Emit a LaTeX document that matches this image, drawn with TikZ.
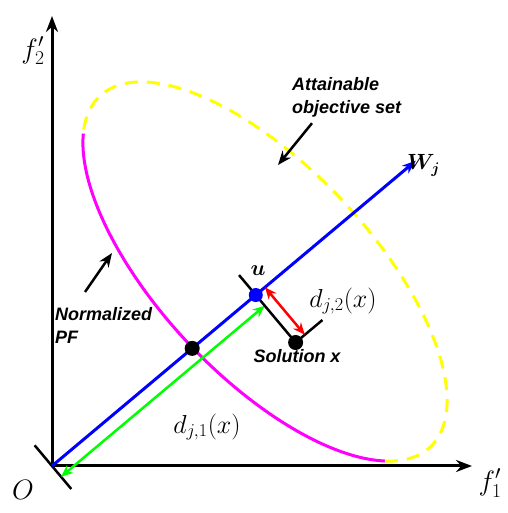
\RequirePackage{fix-cm}
\documentclass[tikz,border=0pt]{standalone}
\usepackage{amsmath, amssymb}
\usepackage{fontspec}
\setsansfont{Liberation Sans}
\usepackage{tikz}
\usetikzlibrary{arrows.meta,calc,positioning}

\definecolor{pfmag}{RGB}{255,0,255}
\definecolor{setyel}{RGB}{255,255,0}
\definecolor{wblue}{RGB}{0,0,255}
\definecolor{dgreen}{RGB}{0,255,0}
\definecolor{dred}{RGB}{255,0,0}

\begin{document}
\begin{tikzpicture}[x=1pt,y=1pt,
    axis/.style={line width=3pt,-{Stealth[length=16pt,width=12pt]}},
    dot/.style={circle,fill=black,inner sep=0pt,minimum size=15pt},
    note/.style={font=\sffamily\bfseries\itshape\fontsize{18}{23}\selectfont,align=left,inner sep=0pt},
    lbl/.style={font=\fontsize{28}{32}\selectfont},
    dlbl/.style={font=\fontsize{26}{30}\selectfont},
    dist/.style={line width=2.5pt,{Stealth[length=12pt,width=10pt]}-{Stealth[length=12pt,width=10pt]}},
    pointer/.style={line width=2.5pt,-{Stealth[length=14pt,width=11pt]}}]

    \useasboundingbox (0,0) rectangle (507,513);

    % Points
    \coordinate (O) at (52,47);
    \coordinate (x1) at (472,47);
    \coordinate (x2) at (52,497);
    \coordinate (W) at ($(O)+(40:475)$);
    \coordinate (u) at ($(O)+(40:266)$);
    \coordinate (p) at ($(O)+(40:183)$);
    \coordinate (s) at ($(u)+(-50:62)$);

    % Attainable objective set and PF
    \begin{scope}[shift={(265,241.5)},rotate=-46.7]
        \draw[pfmag,line width=3pt] (201:241 and 105)
            arc[start angle=201,end angle=336,x radius=241,y radius=105];
        \draw[setyel,line width=3pt,dash pattern=on 13pt off 9pt] (336:241 and 105)
            arc[start angle=336,end angle=561,x radius=241,y radius=105];
    \end{scope}

    % Draw axes
    \draw[axis] (O) -- (x1);
    \draw[axis] (O) -- (x2);
    \draw[line width=2.5pt] ($(O)+(130:27)$) -- ($(O)+(-50:30)$);

    % Reference direction
    \draw[wblue,line width=3pt,-{Stealth[length=14pt,width=10pt]}] (O) -- (W);

    % Distances
    \draw[dgreen,dist] ($(O)+(-50:14)$) -- ($(u)+(-50:14)$);
    \draw[line width=2.5pt] ($(u)+(130:26)$) -- (s) -- ($(s)+(40:35)$);
    \draw[dred,dist] ($(u)+(40:12)$) -- ($(s)+(40:12)$);

    % Points
    \node[dot] (pf) at (p) {};
    \node[dot,fill=wblue,minimum size=14pt] (ud) at (u) {};
    \node[dot] (sol) at (s) {};

    % Labels
    \node[lbl] (f2) at (33,462) {$f'_2$};
    \node[lbl] (f1) at (490,30) {$f'_1$};
    \node[font=\fontsize{28}{30}\selectfont] (o) at (23,23) {$O$};
    \node[font=\fontsize{22}{24}\selectfont] (ulbl) at (258,242) {$\boldsymbol{u}$};
    \node[anchor=base west,inner sep=0pt,font=\fontsize{22}{24}\selectfont] (wlbl) at (407,343) {$\boldsymbol{W_j}$};
    \node[dlbl] (d2) at (343,212) {$d_{j,2}(x)$};
    \node[dlbl] (d1) at (207,86) {$d_{j,1}(x)$};
    \node[note] (sollbl) at (297,157) {Solution x};

    % Annotations
    \node[note,anchor=north west] (att) at (292,436) {Attainable\\objective set};
    \node[note,anchor=north west] (pfn) at (55,206) {Normalized\\PF};
    \coordinate (attTip) at (278,348);
    \coordinate (pfTip) at (112,260);
    \draw[pointer] ($(att.south west)+(20,-6)$) -- (attTip);
    \draw[pointer] ($(pfn.north west)+(30,15)$) -- (pfTip);
\end{tikzpicture}
\end{document}
